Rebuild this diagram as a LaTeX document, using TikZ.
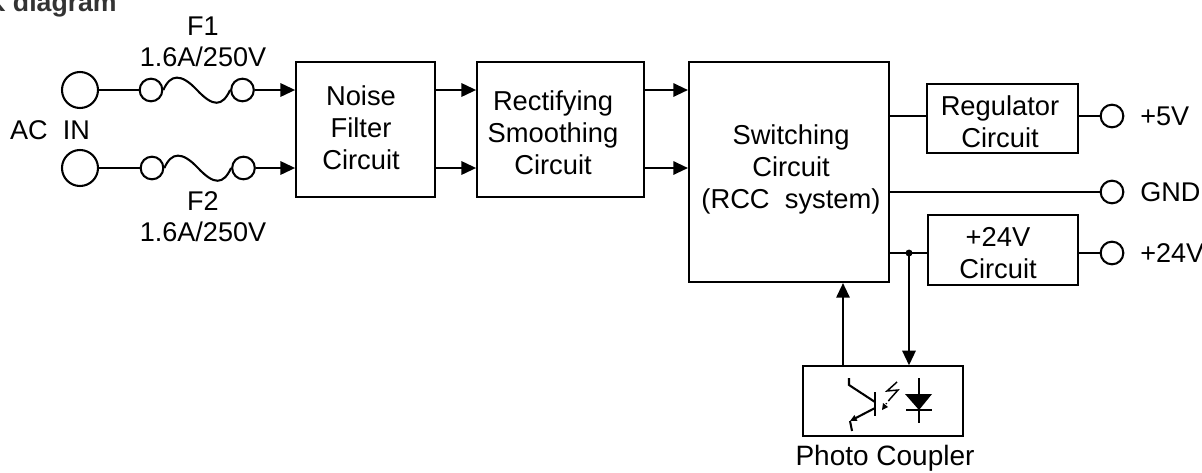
\documentclass[tikz,border=0pt]{standalone}
\usepackage{fontspec}
\setmainfont{Liberation Sans}
\usetikzlibrary{arrows.meta,calc}
\tikzset{
  wire/.style={line width=1.55pt,line cap=butt},
  arr/.style={wire,-{Triangle[length=11pt,width=10pt]},shorten >=0pt},
  blockbox/.style={draw,line width=1.55pt,inner sep=0pt},
  blocktext/.style={inner sep=0pt,align=center,font=\fontsize{20.5}{24}\selectfont},
  term/.style={draw,circle,line width=1.55pt,inner sep=0pt,minimum size=27pt},
  fuseend/.style={draw,circle,line width=1.55pt,inner sep=0pt,minimum size=17pt},
  outend/.style={draw,circle,line width=1.55pt,inner sep=0pt,minimum size=17pt},
  lbl/.style={inner sep=0pt,font=\fontsize{20.3}{24}\selectfont},
}
\begin{document}
\begin{tikzpicture}[x=0.75pt,y=-0.75pt]
\useasboundingbox (0,0) rectangle (1202,472);
\clip (0,0) rectangle (1202,472);
% title (cut by the top and left edges)
\node[lbl,anchor=base east,font=\fontsize{20}{24}\selectfont\bfseries,text=black!80] (title) at (117,11) {K diagram};
% terminals
\node[term] (acA) at (80,90) {};
\node[term] (acB) at (80,168) {};
\node[lbl] (acin) at (50,130) {AC\ \ IN};
% fuses
\node[fuseend] (f1a) at (151,90) {};
\node[fuseend] (f1b) at (242.5,90) {};
\node[fuseend] (f2a) at (152,168) {};
\node[fuseend] (f2b) at (243.5,168) {};
\coordinate (f1m) at (197,90);
\coordinate (f2m) at (198,168);
\draw[wire] (f1a.east) .. controls +(7,-16) and +(-16,-17) .. (f1m) .. controls +(16,17) and +(-8,17) .. (f1b.west);
\draw[wire] (f2a.east) .. controls +(7,-16) and +(-16,-17) .. (f2m) .. controls +(16,17) and +(-8,17) .. (f2b.west);
\node[lbl] (f1l) at (203,26) {F1};
\node[lbl] (f1v) at (203,57) {1.6A/250V};
\node[lbl] (f2l) at (203,201) {F2};
\node[lbl] (f2v) at (203,232) {1.6A/250V};
% blocks
\node[blockbox,minimum width=104pt,minimum height=101pt] (noise) at (365.5,129.5) {};
\node[blocktext] (noiset) at (361,128) {Noise\\Filter\\Circuit};
\node[blockbox,minimum width=125pt,minimum height=101pt] (rect) at (560.5,129.5) {};
\node[blocktext] (rectt) at (553,133) {Rectifying\\Smoothing\\Circuit};
\node[blockbox,minimum width=150pt,minimum height=165pt] (sw) at (789,172) {};
\node[blocktext] (swt) at (791,169) {Switching\\Circuit\\(RCC\ \ system)};
\node[blockbox,minimum width=113pt,minimum height=52pt] (reg) at (1002.5,118.5) {};
\node[blocktext] (regt) at (1000,122) {Regulator\\Circuit};
\node[blockbox,minimum width=113pt,minimum height=52pt] (v24) at (1003,250) {};
\node[blocktext] (v24t) at (998,253) {+24V\\Circuit};
\node[blockbox,minimum width=120pt,minimum height=52pt] (pc) at (883,401) {};
\node[lbl,font=\fontsize{21}{24}\selectfont] (pcl) at (885,458) {Photo Coupler};
% outputs
\node[outend] (o5) at (1112,116) {};
\node[outend] (og) at (1112,192) {};
\node[outend] (o24) at (1112,253) {};
\node[lbl,anchor=west] (o5l) at (1140,116) {+5V};
\node[lbl,anchor=west] (ogl) at (1140,192) {GND};
\node[lbl,anchor=west] (o24l) at (1140,253) {+24V};
% connectors
\draw[wire] (acA) -- (f1a);
\draw[wire] (acB) -- (f2a);
\draw[arr] (f1b) -- (f1b -| noise.west);
\draw[arr] (f2b) -- (f2b -| noise.west);
\draw[arr] (noise.east |- f1a) -- (rect.west |- f1a);
\draw[arr] (noise.east |- f2a) -- (rect.west |- f2a);
\draw[arr] (rect.east |- f1a) -- (sw.west |- f1a);
\draw[arr] (rect.east |- f2a) -- (sw.west |- f2a);
\draw[wire] (sw.east |- o5) -- (reg.west |- o5);
\draw[wire] (reg.east |- o5) -- (o5);
\draw[wire] (sw.east |- og) -- (og);
\draw[wire] (sw.east |- o24) -- (v24.west |- o24);
\draw[wire] (v24.east |- o24) -- (o24);
\coordinate (j) at (909,253);
\fill (j) circle (2.6pt);
\draw[arr] (j) -- (j |- pc.north);
\coordinate (pcu) at (843,366);
\draw[arr] (pcu) -- (pcu |- sw.south);
% phototransistor
\draw[wire] (875,392) -- (875,416);
\draw[wire] (849,378) -- (849,385) -- (875,402);
\draw[wire,-{Triangle[length=5pt,width=4.5pt]}] (875,408) -- (850,421);
\draw[wire] (850,421) -- (852,431);
% light
\draw[line width=1.1pt] (897,382) -- (887,391) -- (898,390) -- (890,399);
\draw[line width=1.1pt,dash pattern=on 2pt off 2pt] (890,399) -- (886,404);
\fill (888,407) -- (882,410) -- (883,403) -- cycle;
% diode
\draw[wire] (919,378) -- (919,423);
\fill (905,394) -- (932,394) -- (919,410) -- cycle;
\draw[wire] (906,410) -- (932,410);
\end{tikzpicture}
\end{document}
